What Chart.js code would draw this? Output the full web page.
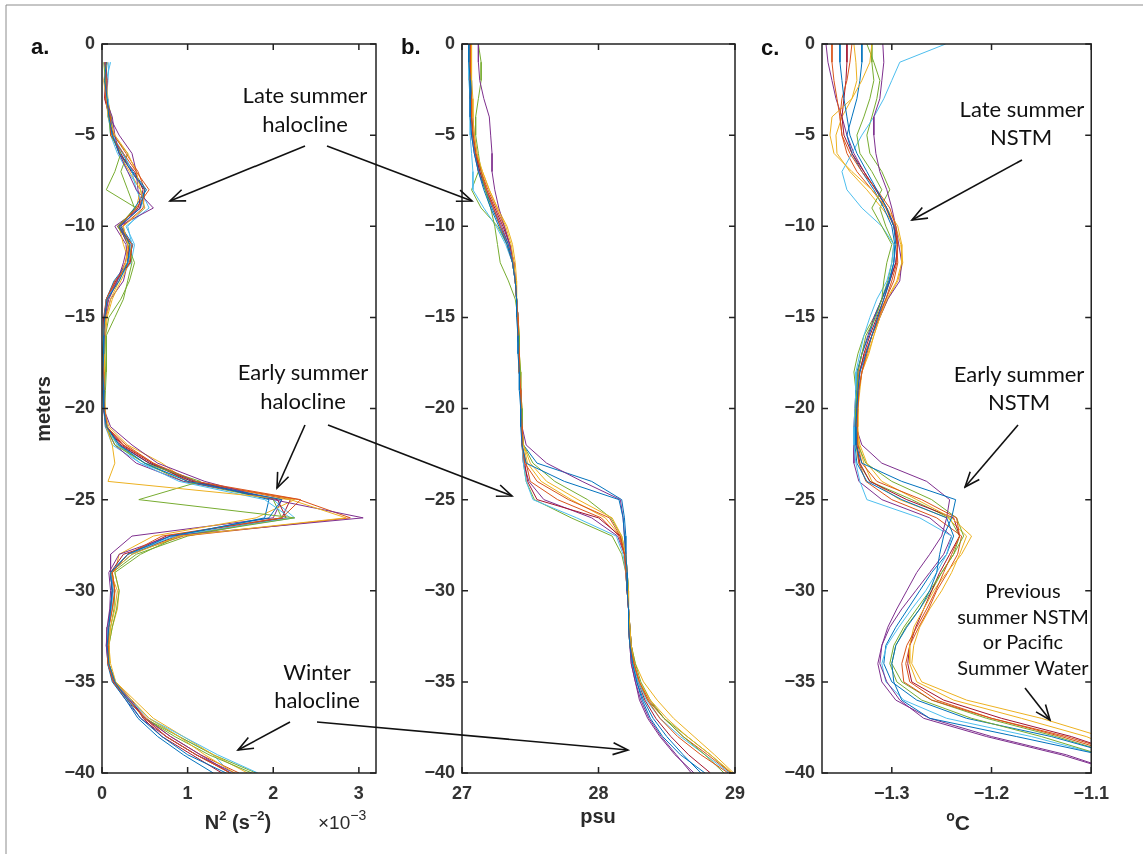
<!DOCTYPE html>
<html><head><meta charset="utf-8">
<script src="https://cdn.jsdelivr.net/npm/chart.js@4.4.1/dist/chart.umd.min.js"></script>
<style>
html,body{margin:0;padding:0;background:#fff;}
#wrap{position:relative;width:1143px;height:854px;overflow:hidden;background:#fff;}
canvas{position:absolute;}
svg{position:absolute;left:0;top:0;}
</style>
</head><body>
<div id="wrap">
<canvas id="ca"></canvas><canvas id="cb"></canvas><canvas id="cc"></canvas>
<svg id="ov" width="1143" height="854" xmlns="http://www.w3.org/2000/svg">
<defs>
<marker id="ah" markerUnits="userSpaceOnUse" markerWidth="18" markerHeight="14" refX="16" refY="7" orient="auto">
<path d="M1,1 L16,7 L1,13" fill="none" stroke="#111" stroke-width="1.6"/>
</marker>
</defs>
<line x1="6" y1="5" x2="1143" y2="5" stroke="#8c8c8c" stroke-width="1"/>
<line x1="6" y1="5" x2="6" y2="854" stroke="#8c8c8c" stroke-width="1"/>
<g font-family="Liberation Sans, Arial, sans-serif" font-weight="bold" font-size="22" fill="#111">
<text x="31" y="54">a.</text>
<text x="401" y="54">b.</text>
<text x="761" y="55">c.</text>
</g>
<g font-family="Liberation Sans, Arial, sans-serif" fill="#2a2a2a" font-size="20" font-weight="bold">
<text transform="translate(50,409) rotate(-90)" text-anchor="middle">meters</text>
<text x="238" y="829" text-anchor="middle">N<tspan dy="-9" font-size="13">2</tspan><tspan dy="9"> (s</tspan><tspan dy="-9" font-size="13">−2</tspan><tspan dy="9">)</tspan></text>
<text x="598" y="823" text-anchor="middle">psu</text>
<text x="958" y="830" text-anchor="middle"><tspan font-size="14" dy="-9">o</tspan><tspan dy="9" font-size="21">C</tspan></text>
</g>
<text x="318" y="829" font-family="Liberation Sans, Arial, sans-serif" fill="#2a2a2a" font-size="19">×10<tspan dy="-9" font-size="14">−3</tspan></text>
<g font-family="Lato, 'Open Sans', sans-serif" font-size="22" fill="#111" text-anchor="middle">
<text x="305" y="103">Late summer</text>
<text x="305" y="132">halocline</text>
<text x="303" y="380">Early summer</text>
<text x="303" y="409">halocline</text>
<text x="317" y="680">Winter</text>
<text x="317" y="708">halocline</text>
<text x="1022" y="117">Late summer</text>
<text x="1021" y="145">NSTM</text>
<text x="1019" y="382">Early summer</text>
<text x="1019" y="410">NSTM</text>
</g>
<g font-family="Lato, 'Open Sans', sans-serif" font-size="20" fill="#111" text-anchor="middle">
<text x="1023" y="598">Previous</text>
<text x="1023" y="624">summer NSTM</text>
<text x="1023" y="649">or Pacific</text>
<text x="1023" y="675">Summer Water</text>
</g>
<g stroke="#111" stroke-width="1.6" fill="none" marker-end="url(#ah)">
<line x1="305" y1="146" x2="170" y2="201"/>
<line x1="327" y1="146" x2="472" y2="201"/>
<line x1="305" y1="425" x2="277" y2="488"/>
<line x1="328" y1="425" x2="512" y2="496"/>
<line x1="290" y1="722" x2="238" y2="750"/>
<line x1="317" y1="722" x2="628" y2="750"/>
<line x1="1022" y1="160" x2="912" y2="220"/>
<line x1="1018" y1="425" x2="965" y2="487"/>
<line x1="1025" y1="688" x2="1050" y2="720"/>
</g>
</svg>
</div>
<script>
// ---------- axis tick values ----------
const depthTicks = [0,-5,-10,-15,-20,-25,-30,-35,-40];
const n2Ticks = [0,1,2,3];
const psuTicks = [27,28,29];
const tempTicks = [-1.3,-1.2,-1.1];

// ---------- depths ----------
const depthA = [-1,-2,-3,-4,-5,-6,-7,-8,-9,-10,-11,-12,-13,-14,-15,-16,-17,-18,-19,-20,-21,-22,-23,-24,-25,-26,-27,-28,-29,-30,-31,-32,-33,-34,-35,-36,-37,-38,-39,-40];
const depthBC = [0,-1,-2,-3,-4,-5,-6,-7,-8,-9,-10,-11,-12,-13,-14,-15,-16,-17,-18,-19,-20,-21,-22,-23,-24,-25,-26,-27,-28,-29,-30,-31,-32,-33,-34,-35,-36,-37,-38,-39,-40];

// ---------- panel a: N^2 (x10^-3 s^-2) ----------
const n2_01 = [0.05,0.03,0.06,0.08,0.12,0.2,0.35,0.5,0.45,0.2,0.33,0.3,0.2,0.06,0.03,0.02,0.02,0.01,0.02,0.02,0.05,0.2,0.5,1.0,2.1,1.95,0.8,0.3,0.1,0.12,0.1,0.08,0.06,0.08,0.15,0.3,0.45,0.7,1.0,1.45];
const n2_02 = [0.04,0.05,0.04,0.1,0.1,0.25,0.4,0.55,0.4,0.2,0.35,0.32,0.15,0.05,0.03,0.02,0.01,0.02,0.02,0.03,0.06,0.25,0.6,1.1,2.32,2.1,0.7,0.3,0.12,0.15,0.12,0.08,0.07,0.07,0.13,0.3,0.5,0.75,1.1,1.5];
const n2_03 = [0.06,0.02,0.05,0.07,0.15,0.3,0.4,0.45,0.5,0.25,0.3,0.28,0.2,0.1,0.05,0.02,0.03,0.03,0.02,0.04,0.05,0.12,0.15,0.07,2.2,2.85,0.9,0.35,0.1,0.18,0.15,0.1,0.08,0.08,0.15,0.35,0.55,0.9,1.2,1.55];
const n2_04 = [0.03,0.06,0.04,0.12,0.15,0.2,0.3,0.4,0.6,0.2,0.3,0.25,0.18,0.08,0.03,0.03,0.02,0.02,0.01,0.02,0.1,0.35,0.65,1.2,2.0,3.05,0.8,0.2,0.08,0.1,0.09,0.06,0.05,0.07,0.14,0.32,0.5,0.8,1.15,1.5];
const n2_05 = [0.02,0.04,0.05,0.08,0.1,0.22,0.15,0.05,0.4,0.18,0.32,0.35,0.3,0.25,0.15,0.05,0.05,0.05,0.04,0.03,0.05,0.15,0.5,1.15,0.43,2.25,0.9,0.45,0.15,0.2,0.17,0.12,0.08,0.08,0.14,0.3,0.5,0.85,1.25,1.75];
const n2_06 = [0.1,0.05,0.06,0.07,0.12,0.25,0.35,0.4,0.5,0.3,0.35,0.3,0.2,0.05,0.03,0.02,0.02,0.02,0.02,0.03,0.04,0.18,0.45,0.9,1.9,2.2,0.85,0.3,0.1,0.13,0.11,0.07,0.06,0.07,0.15,0.32,0.55,0.95,1.35,1.82];
const n2_07 = [0.05,0.04,0.03,0.09,0.12,0.2,0.38,0.48,0.42,0.18,0.35,0.33,0.16,0.05,0.02,0.02,0.02,0.01,0.02,0.02,0.05,0.22,0.55,1.05,2.05,2.15,0.9,0.25,0.1,0.12,0.1,0.07,0.06,0.08,0.15,0.35,0.48,0.7,1.05,1.4];
const n2_08 = [0.06,0.04,0.05,0.1,0.12,0.24,0.36,0.52,0.38,0.22,0.36,0.3,0.14,0.05,0.03,0.02,0.01,0.02,0.03,0.02,0.06,0.2,0.55,1.1,1.95,1.9,0.85,0.35,0.1,0.12,0.1,0.07,0.06,0.07,0.12,0.28,0.42,0.65,0.95,1.3];
const n2_09 = [0.04,0.06,0.05,0.08,0.14,0.28,0.42,0.5,0.48,0.24,0.32,0.27,0.17,0.07,0.04,0.02,0.02,0.02,0.02,0.03,0.05,0.28,0.6,1.0,2.3,2.9,0.95,0.3,0.12,0.15,0.12,0.08,0.07,0.08,0.14,0.32,0.52,0.8,1.15,1.6];
const n2_10 = [0.03,0.05,0.07,0.1,0.12,0.2,0.32,0.45,0.4,0.2,0.25,0.32,0.22,0.12,0.06,0.04,0.03,0.02,0.03,0.02,0.08,0.3,0.7,1.0,2.25,1.8,0.6,0.2,0.15,0.2,0.18,0.12,0.08,0.1,0.16,0.38,0.6,0.95,1.3,1.7];
const n2_11 = [0.05,0.05,0.05,0.09,0.2,0.35,0.4,0.42,0.45,0.15,0.28,0.3,0.25,0.1,0.04,0.03,0.02,0.02,0.02,0.02,0.04,0.15,0.4,0.95,2.1,2.0,0.35,0.1,0.1,0.12,0.1,0.07,0.05,0.07,0.13,0.28,0.45,0.75,1.1,1.55];
const n2_12 = [0.04,0.03,0.06,0.11,0.13,0.3,0.22,0.3,0.38,0.2,0.3,0.38,0.32,0.22,0.08,0.04,0.03,0.04,0.03,0.03,0.06,0.18,0.5,0.95,2.0,2.1,1.0,0.4,0.12,0.15,0.14,0.1,0.07,0.08,0.15,0.32,0.5,0.9,1.3,1.8];
const n2_13 = [0.08,0.07,0.05,0.08,0.1,0.18,0.3,0.45,0.55,0.28,0.38,0.34,0.18,0.06,0.03,0.02,0.02,0.02,0.02,0.02,0.04,0.12,0.45,1.05,2.0,2.25,0.8,0.3,0.1,0.12,0.1,0.07,0.06,0.08,0.16,0.34,0.55,0.9,1.3,1.5];
const n2_14 = [0.05,0.05,0.04,0.08,0.12,0.22,0.34,0.5,0.44,0.22,0.32,0.3,0.18,0.06,0.03,0.02,0.02,0.02,0.02,0.02,0.05,0.24,0.58,1.08,2.2,2.1,0.75,0.3,0.11,0.13,0.1,0.07,0.06,0.07,0.14,0.33,0.5,0.75,1.1,1.5];

// ---------- panel b: salinity (psu) ----------
const sal_01 = [27.05,27.05,27.06,27.06,27.06,27.07,27.09,27.12,27.16,27.21,27.27,27.33,27.37,27.39,27.4,27.4,27.41,27.41,27.42,27.42,27.43,27.43,27.44,27.47,27.75,28.15,28.18,28.19,28.2,28.21,28.21,28.22,28.22,28.23,28.25,28.28,28.32,28.38,28.47,28.6,28.78];
const sal_02 = [27.06,27.06,27.06,27.07,27.07,27.08,27.1,27.14,27.18,27.23,27.28,27.33,27.37,27.39,27.4,27.41,27.41,27.42,27.42,27.43,27.43,27.44,27.44,27.46,27.55,27.78,28.08,28.16,28.19,28.2,28.21,28.22,28.22,28.23,28.26,28.3,28.36,28.45,28.58,28.75,28.95];
const sal_03 = [27.07,27.07,27.07,27.08,27.08,27.09,27.11,27.15,27.2,27.26,27.32,27.36,27.38,27.39,27.4,27.41,27.41,27.42,27.42,27.43,27.43,27.44,27.45,27.5,27.62,27.85,28.1,28.17,28.2,28.21,28.22,28.22,28.23,28.24,28.26,28.3,28.38,28.5,28.65,28.82,28.98];
const sal_04 = [27.12,27.12,27.13,27.16,27.2,27.21,27.22,27.22,27.24,27.27,27.31,27.35,27.38,27.39,27.4,27.41,27.41,27.42,27.42,27.43,27.43,27.44,27.47,27.62,27.88,28.16,28.18,28.19,28.2,28.21,28.21,28.22,28.22,28.23,28.24,28.27,28.3,28.36,28.45,28.56,28.7];
const sal_05 = [27.12,27.14,27.14,27.12,27.1,27.1,27.12,27.14,27.17,27.21,27.24,27.26,27.28,27.34,27.39,27.41,27.42,27.42,27.43,27.43,27.44,27.44,27.45,27.52,27.68,27.92,28.09,28.17,28.2,28.21,28.22,28.22,28.23,28.24,28.27,28.31,28.38,28.48,28.62,28.78,28.92];
const sal_06 = [27.05,27.05,27.05,27.06,27.06,27.06,27.07,27.08,27.08,27.16,27.25,27.32,27.37,27.39,27.4,27.41,27.41,27.42,27.42,27.43,27.43,27.44,27.44,27.45,27.47,27.52,27.84,28.13,28.18,28.2,28.21,28.22,28.22,28.23,28.25,28.29,28.35,28.45,28.6,28.78,28.96];
const sal_07 = [27.06,27.06,27.06,27.06,27.07,27.08,27.1,27.13,27.18,27.24,27.3,27.35,27.38,27.39,27.4,27.41,27.41,27.42,27.42,27.43,27.43,27.44,27.44,27.46,27.48,27.55,28.0,28.16,28.19,28.21,28.21,28.22,28.23,28.24,28.26,28.29,28.34,28.42,28.53,28.66,28.82];
const sal_08 = [27.06,27.06,27.07,27.07,27.07,27.08,27.1,27.13,27.17,27.22,27.28,27.34,27.37,27.39,27.4,27.41,27.41,27.42,27.42,27.43,27.43,27.44,27.45,27.55,27.95,28.17,28.19,28.2,28.2,28.21,28.22,28.22,28.23,28.24,28.25,28.28,28.33,28.4,28.5,28.62,28.75];
const sal_09 = [27.06,27.06,27.07,27.07,27.08,27.09,27.11,27.14,27.19,27.25,27.31,27.35,27.38,27.39,27.4,27.41,27.41,27.42,27.42,27.43,27.43,27.44,27.44,27.47,27.5,27.7,28.02,28.15,28.19,28.2,28.21,28.22,28.23,28.24,28.26,28.3,28.37,28.48,28.62,28.8,28.97];
const sal_10 = [27.05,27.05,27.06,27.06,27.07,27.08,27.1,27.15,27.2,27.26,27.33,27.37,27.39,27.4,27.4,27.41,27.42,27.42,27.43,27.43,27.44,27.44,27.45,27.48,27.58,27.8,28.05,28.16,28.19,28.21,28.22,28.22,28.23,28.24,28.27,28.33,28.43,28.55,28.7,28.85,28.99];
const sal_11 = [27.05,27.05,27.06,27.06,27.06,27.07,27.09,27.12,27.17,27.23,27.29,27.34,27.37,27.39,27.4,27.41,27.41,27.42,27.42,27.43,27.43,27.44,27.44,27.45,27.49,27.6,27.95,28.14,28.19,28.2,28.21,28.22,28.22,28.23,28.24,28.27,28.31,28.37,28.46,28.57,28.68];
const sal_12 = [27.06,27.06,27.06,27.07,27.07,27.08,27.1,27.12,27.07,27.14,27.26,27.33,27.37,27.39,27.4,27.41,27.41,27.42,27.42,27.43,27.43,27.44,27.44,27.45,27.47,27.53,27.8,28.1,28.17,28.2,28.21,28.22,28.22,28.23,28.25,28.29,28.36,28.48,28.65,28.82,28.97];

// ---------- panel c: temperature (degC) ----------
const tmp_01 = [-1.352,-1.352,-1.35,-1.348,-1.345,-1.342,-1.335,-1.325,-1.315,-1.305,-1.298,-1.296,-1.298,-1.302,-1.308,-1.314,-1.32,-1.326,-1.332,-1.334,-1.335,-1.336,-1.336,-1.33,-1.29,-1.236,-1.24,-1.248,-1.252,-1.255,-1.262,-1.272,-1.285,-1.296,-1.3,-1.298,-1.29,-1.262,-1.175,-1.09,-1.04];
const tmp_02 = [-1.34,-1.342,-1.345,-1.35,-1.352,-1.35,-1.342,-1.33,-1.315,-1.302,-1.296,-1.294,-1.295,-1.3,-1.306,-1.313,-1.32,-1.325,-1.33,-1.333,-1.334,-1.335,-1.334,-1.33,-1.315,-1.27,-1.235,-1.232,-1.24,-1.248,-1.256,-1.265,-1.275,-1.285,-1.29,-1.288,-1.26,-1.2,-1.13,-1.07,-1.03];
const tmp_03 = [-1.32,-1.322,-1.33,-1.34,-1.36,-1.362,-1.358,-1.34,-1.32,-1.305,-1.294,-1.29,-1.29,-1.295,-1.305,-1.312,-1.318,-1.323,-1.33,-1.332,-1.334,-1.335,-1.332,-1.325,-1.31,-1.275,-1.24,-1.22,-1.23,-1.245,-1.258,-1.268,-1.278,-1.282,-1.282,-1.275,-1.238,-1.17,-1.105,-1.06,-1.02];
const tmp_04 = [-1.309,-1.308,-1.31,-1.312,-1.318,-1.318,-1.316,-1.312,-1.305,-1.3,-1.296,-1.293,-1.29,-1.292,-1.304,-1.312,-1.32,-1.326,-1.33,-1.333,-1.335,-1.336,-1.33,-1.31,-1.265,-1.242,-1.245,-1.25,-1.262,-1.275,-1.285,-1.295,-1.304,-1.31,-1.312,-1.305,-1.292,-1.268,-1.205,-1.13,-1.07];
const tmp_05 = [-1.32,-1.32,-1.318,-1.322,-1.328,-1.335,-1.332,-1.32,-1.31,-1.32,-1.31,-1.3,-1.305,-1.308,-1.31,-1.316,-1.326,-1.33,-1.334,-1.335,-1.336,-1.336,-1.334,-1.326,-1.3,-1.26,-1.235,-1.228,-1.238,-1.25,-1.262,-1.275,-1.288,-1.298,-1.302,-1.295,-1.27,-1.22,-1.15,-1.09,-1.04];
const tmp_06 = [-1.246,-1.292,-1.3,-1.308,-1.318,-1.33,-1.34,-1.35,-1.345,-1.33,-1.31,-1.298,-1.3,-1.305,-1.315,-1.322,-1.328,-1.332,-1.336,-1.336,-1.337,-1.338,-1.338,-1.336,-1.332,-1.325,-1.272,-1.24,-1.245,-1.255,-1.266,-1.28,-1.293,-1.305,-1.31,-1.306,-1.288,-1.245,-1.16,-1.09,-1.04];
const tmp_07 = [-1.345,-1.345,-1.346,-1.348,-1.35,-1.348,-1.34,-1.328,-1.316,-1.305,-1.298,-1.294,-1.296,-1.302,-1.308,-1.315,-1.322,-1.328,-1.332,-1.334,-1.335,-1.335,-1.335,-1.332,-1.322,-1.285,-1.238,-1.232,-1.242,-1.252,-1.26,-1.268,-1.276,-1.282,-1.284,-1.28,-1.248,-1.19,-1.12,-1.065,-1.03];
const tmp_08 = [-1.33,-1.33,-1.332,-1.335,-1.34,-1.345,-1.34,-1.33,-1.318,-1.308,-1.3,-1.297,-1.298,-1.303,-1.31,-1.317,-1.323,-1.33,-1.335,-1.336,-1.336,-1.337,-1.337,-1.335,-1.325,-1.29,-1.245,-1.238,-1.245,-1.26,-1.272,-1.284,-1.296,-1.306,-1.308,-1.3,-1.275,-1.225,-1.14,-1.075,-1.03];
const tmp_09 = [-1.36,-1.36,-1.358,-1.355,-1.352,-1.35,-1.345,-1.335,-1.32,-1.306,-1.298,-1.295,-1.294,-1.298,-1.306,-1.314,-1.32,-1.327,-1.333,-1.335,-1.336,-1.336,-1.335,-1.333,-1.326,-1.3,-1.255,-1.23,-1.234,-1.244,-1.255,-1.263,-1.273,-1.282,-1.286,-1.282,-1.255,-1.2,-1.125,-1.065,-1.03];
const tmp_10 = [-1.338,-1.336,-1.335,-1.34,-1.35,-1.356,-1.355,-1.342,-1.325,-1.31,-1.296,-1.291,-1.289,-1.294,-1.304,-1.312,-1.318,-1.324,-1.33,-1.333,-1.334,-1.334,-1.333,-1.328,-1.32,-1.292,-1.244,-1.225,-1.232,-1.24,-1.25,-1.262,-1.272,-1.278,-1.28,-1.27,-1.225,-1.15,-1.09,-1.05,-1.02];
const tmp_11 = [-1.366,-1.364,-1.36,-1.356,-1.35,-1.345,-1.338,-1.328,-1.316,-1.305,-1.297,-1.294,-1.296,-1.302,-1.31,-1.318,-1.324,-1.33,-1.334,-1.336,-1.337,-1.338,-1.338,-1.338,-1.333,-1.31,-1.262,-1.24,-1.248,-1.262,-1.276,-1.29,-1.302,-1.31,-1.314,-1.31,-1.296,-1.262,-1.2,-1.125,-1.07];
const tmp_12 = [-1.325,-1.318,-1.312,-1.315,-1.32,-1.325,-1.322,-1.31,-1.302,-1.312,-1.306,-1.298,-1.3,-1.304,-1.31,-1.318,-1.328,-1.334,-1.338,-1.336,-1.336,-1.337,-1.336,-1.333,-1.322,-1.28,-1.242,-1.232,-1.238,-1.25,-1.26,-1.272,-1.286,-1.296,-1.3,-1.29,-1.26,-1.205,-1.135,-1.075,-1.035];

const lineColors = ['#0072BD','#D95319','#EDB120','#7E2F8E','#77AC30','#4DBEEE','#A2142F'];

const n2Series = [n2_01,n2_02,n2_03,n2_04,n2_05,n2_06,n2_07,n2_08,n2_09,n2_10,n2_11,n2_12,n2_13,n2_14];
const salSeries = [sal_01,sal_02,sal_03,sal_04,sal_05,sal_06,sal_07,sal_08,sal_09,sal_10,sal_11,sal_12];
const tmpSeries = [tmp_01,tmp_02,tmp_03,tmp_04,tmp_05,tmp_06,tmp_07,tmp_08,tmp_09,tmp_10,tmp_11,tmp_12];

const fmt = v => (v < 0 ? '\u2212' : '') + String(Math.abs(Math.round(v*1000)/1000));
const tickFont = {family: 'Liberation Sans, Arial, sans-serif', size: 18, weight: 'bold'};
const tickColor = '#333333';
const axisColor = '#222222';

const framePlugin = {
  id: 'frame',
  afterDraw(chart) {
    const {ctx, chartArea: a, scales: {x, y}} = chart;
    ctx.save();
    ctx.strokeStyle = axisColor;
    ctx.lineWidth = 1.5;
    ctx.strokeRect(a.left, a.top, a.right - a.left, a.bottom - a.top);
    const L = 6;
    ctx.beginPath();
    x.ticks.forEach(t => {
      const px = x.getPixelForValue(t.value);
      ctx.moveTo(px, a.bottom); ctx.lineTo(px, a.bottom - L);
      ctx.moveTo(px, a.top); ctx.lineTo(px, a.top + L);
    });
    y.ticks.forEach(t => {
      const py = y.getPixelForValue(t.value);
      ctx.moveTo(a.left, py); ctx.lineTo(a.left + L, py);
      ctx.moveTo(a.right, py); ctx.lineTo(a.right - L, py);
    });
    ctx.stroke();
    ctx.restore();
  }
};

function panel(id, box, xr, xTickVals, depths, seriesList) {
  const LW = 90, RP = 24, TP = 20, BH = 50;
  const cv = document.getElementById(id);
  cv.width = box.w + LW + RP; cv.height = box.h + TP + BH;
  cv.style.width = cv.width + 'px'; cv.style.height = cv.height + 'px';
  cv.style.left = (box.l - LW) + 'px'; cv.style.top = (box.t - TP) + 'px';
  const datasets = seriesList.map((vals, i) => ({
    data: vals.map((v, j) => ({x: v, y: depths[j]})),
    borderColor: lineColors[i % lineColors.length],
    borderWidth: 1, pointRadius: 0, showLine: true, fill: false, tension: 0
  }));
  new Chart(cv, {
    type: 'scatter',
    data: {datasets},
    options: {
      responsive: false, animation: false, devicePixelRatio: 1,
      layout: {padding: {left: 0, right: RP, top: TP, bottom: 0}},
      plugins: {legend: {display: false}, tooltip: {enabled: false}},
      scales: {
        x: {
          type: 'linear', position: 'bottom', min: xr[0], max: xr[1],
          grid: {display: false, drawTicks: false}, border: {display: false},
          afterFit(s) { s.height = BH; },
          afterBuildTicks(s) { s.ticks = xTickVals.map(v => ({value: v})); },
          ticks: {font: tickFont, color: tickColor, padding: 10, maxRotation: 0, minRotation: 0, autoSkip: false,
                  callback: v => fmt(v)}
        },
        y: {
          type: 'linear', position: 'left', min: -40, max: 0,
          grid: {display: false, drawTicks: false}, border: {display: false},
          afterFit(s) { s.width = LW; },
          afterBuildTicks(s) { s.ticks = depthTicks.map(v => ({value: v})); },
          ticks: {font: tickFont, color: tickColor, padding: 7, autoSkip: false, callback: v => fmt(v)}
        }
      }
    },
    plugins: [framePlugin]
  });
}

panel('ca', {l: 102, t: 44, w: 274, h: 729}, [0, 3.2], n2Ticks, depthA, n2Series);
panel('cb', {l: 462, t: 44, w: 273, h: 729}, [27, 29], psuTicks, depthBC, salSeries);
panel('cc', {l: 822, t: 44, w: 273, h: 729}, [-1.37, -1.1], tempTicks, depthBC, tmpSeries);
</script>
</body></html>
